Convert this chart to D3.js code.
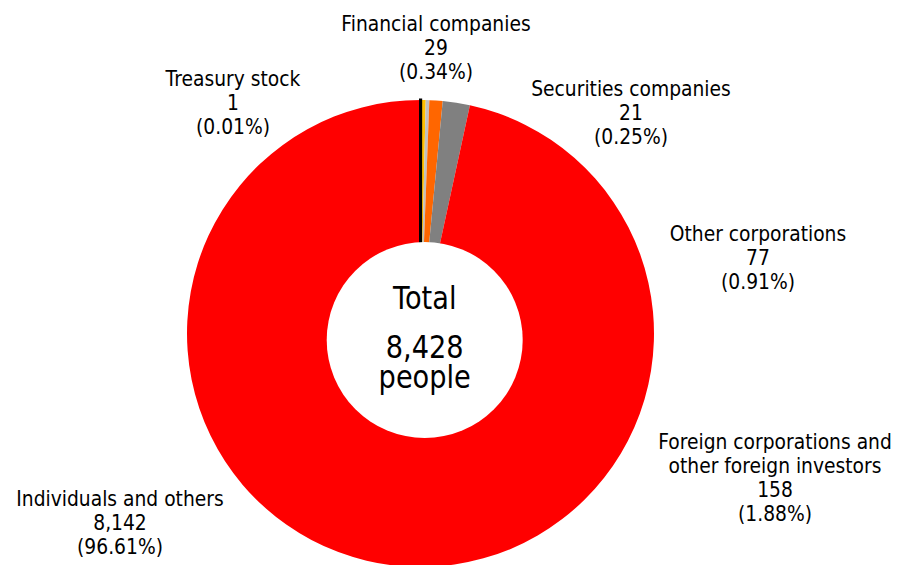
<!DOCTYPE html>
<html>
<head>
<meta charset="utf-8">
<script src="https://cdn.jsdelivr.net/npm/d3@7"></script>
<style>
  html, body { margin: 0; padding: 0; background: #fff; }
  svg { display: block; }
  text { font-family: "DejaVu Sans", Verdana, sans-serif; fill: #000; }
</style>
</head>
<body>
<svg id="chart" width="897" height="565"></svg>
<script>
// ---- data ----
const categories = ["Treasury stock", "Financial companies", "Securities companies",
  "Other corporations", "Foreign corporations and other foreign investors", "Individuals and others"];
const labelLines = [["Treasury stock"], ["Financial companies"], ["Securities companies"],
  ["Other corporations"], ["Foreign corporations and", "other foreign investors"], ["Individuals and others"]];
const values = [1, 29, 21, 77, 158, 8142];
const percents = ["0.01%", "0.34%", "0.25%", "0.91%", "1.88%", "96.61%"];
const colors = ["#000000", "#FFC000", "#C0C0C0", "#FF6600", "#808080", "#FF0000"];
const totalValue = 8428;
const centerLabels = ["Total", "people"];

// ---- layout ----
const cx = 420.5, cy = 333.5, outerR = 233.5, innerR = 88;
const holeCx = 424.7, holeCy = 340, holeR = 98;
const labelPos = [[233, 86], [436, 31], [631, 96], [758, 241], [775, 449], [120, 506]];
const lineH = 24;
const xScale = 0.85;

const svg = d3.select("#chart");
const pie = d3.pie().sort(null).value(d => d)(values);
const arc = d3.arc().innerRadius(innerR).outerRadius(outerR);

const g = svg.append("g").attr("transform", `translate(${cx},${cy})`);
// draw the tiny treasury slice last so its outline stays visible
const order = pie.map((d, i) => i).slice(1).concat([0]);
g.selectAll("path").data(order.map(i => ({ d: pie[i], i }))).join("path")
  .attr("d", o => arc(o.d))
  .attr("fill", o => colors[o.i])
  .attr("stroke", o => o.i === 0 ? colors[0] : "none")
  .attr("stroke-width", o => o.i === 0 ? 3 : 0);

svg.append("circle").attr("cx", holeCx).attr("cy", holeCy).attr("r", holeR).attr("fill", "#fff");

// center text
const fmt = d3.format(",");
const ct = [[centerLabels[0], 309], [fmt(totalValue), 358], [centerLabels[1], 388]];
ct.forEach(([t, y]) => {
  svg.append("g").attr("transform", `translate(${holeCx},${y}) scale(${xScale},1)`)
    .append("text").attr("text-anchor", "middle").attr("font-size", 32).text(t);
});

// labels
labelLines.forEach((lines, i) => {
  const all = lines.concat([fmt(values[i]), "(" + percents[i] + ")"]);
  const [x, y] = labelPos[i];
  const lg = svg.append("g").attr("transform", `translate(${x},${y}) scale(${xScale},1)`);
  all.forEach((t, k) => {
    lg.append("text").attr("text-anchor", "middle").attr("font-size", 22)
      .attr("y", k * lineH).text(t);
  });
});
</script>
</body>
</html>
